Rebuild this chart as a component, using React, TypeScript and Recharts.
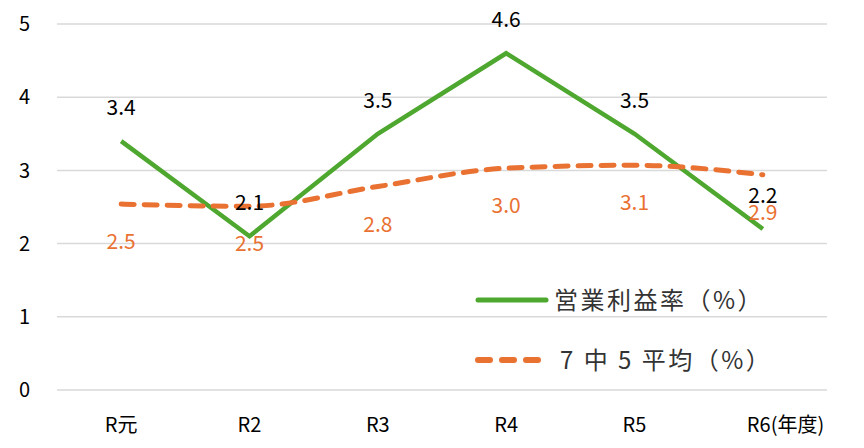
import { LineChart, Line, XAxis, YAxis, CartesianGrid } from 'recharts';

const years = ['R元', 'R2', 'R3', 'R4', 'R5', 'R6'];
const profitRate = [3.4, 2.1, 3.5, 4.6, 3.5, 2.2];
const avgRate = [2.54, 2.51, 2.78, 3.03, 3.07, 2.94];
const yTicks = [0, 1, 2, 3, 4, 5];

const data = years.map((year, i) => ({ year, profit: profitRate[i], avg: avgRate[i] }));

const GREEN = '#4ea72e';
const ORANGE = '#e97132';
const FONT = '"Noto Sans CJK JP", "Noto Sans", sans-serif';

const XTick = (props: any) => {
  const { x, y, payload, index } = props;
  if (index === years.length - 1) {
    return (
      <text x={x - 16} y={y + 34} fontSize={20} fill="#000" fontFamily={FONT} textAnchor="start">
        {payload.value}(年度)
      </text>
    );
  }
  return (
    <text x={x} y={y + 34} fontSize={20} fill="#000" fontFamily={FONT} textAnchor="middle">
      {payload.value}
    </text>
  );
};

const greenLabel = (props: any) => (
  <text x={props.x} y={props.y - 26} fontSize={21} fill="#000" fontFamily={FONT} textAnchor="middle">
    {Number(props.value).toFixed(1)}
  </text>
);

const orangeLabel = (props: any) => (
  <text x={props.x} y={props.y + 45} fontSize={21} fill={ORANGE} fontFamily={FONT} textAnchor="middle">
    {Number(props.value).toFixed(1)}
  </text>
);

export default function App() {
  return (
    <div style={{ position: 'absolute', left: 0, top: 0, width: 864, height: 448, background: '#fff' }}>
      <LineChart width={864} height={448} data={data} margin={{ top: 24, right: 37, left: 0, bottom: 18 }}>
        <CartesianGrid vertical={false} stroke="#d9d9d9" strokeWidth={1.5} />
        <XAxis dataKey="year" scale="band" height={40} axisLine={false} tickLine={false} tick={<XTick />} interval={0} />
        <YAxis
          width={57}
          domain={[0, 5]}
          ticks={yTicks}
          axisLine={false}
          tickLine={false}
          tickMargin={21}
          tick={{ fontSize: 20, fill: '#000', fontFamily: FONT }}
        />
        <Line
          dataKey="profit"
          type="linear"
          stroke={GREEN}
          strokeWidth={4.5}
          dot={false}
          label={greenLabel}
          isAnimationActive={false}
        />
        <Line
          dataKey="avg"
          type="monotone"
          stroke={ORANGE}
          strokeWidth={5}
          strokeDasharray="13 10"
          strokeLinecap="round"
          dot={false}
          label={orangeLabel}
          isAnimationActive={false}
        />
      </LineChart>
      <svg width={340} height={110} style={{ position: 'absolute', left: 472, top: 279 }}>
        <line x1={6} y1={21} x2={74} y2={21} stroke={GREEN} strokeWidth={5} strokeLinecap="round" />
        <text x={82} y={30} fontSize={24} letterSpacing={2.5} fill="#333" fontFamily={FONT}>営業利益率（%）</text>
        <line x1={6} y1={81} x2={74} y2={81} stroke={ORANGE} strokeWidth={6} strokeLinecap="round" strokeDasharray="12 12" />
        <text x={88} y={90} fontSize={24} letterSpacing={2.5} fill="#333" fontFamily={FONT}>7 中 5 平均（%）</text>
      </svg>
    </div>
  );
}
